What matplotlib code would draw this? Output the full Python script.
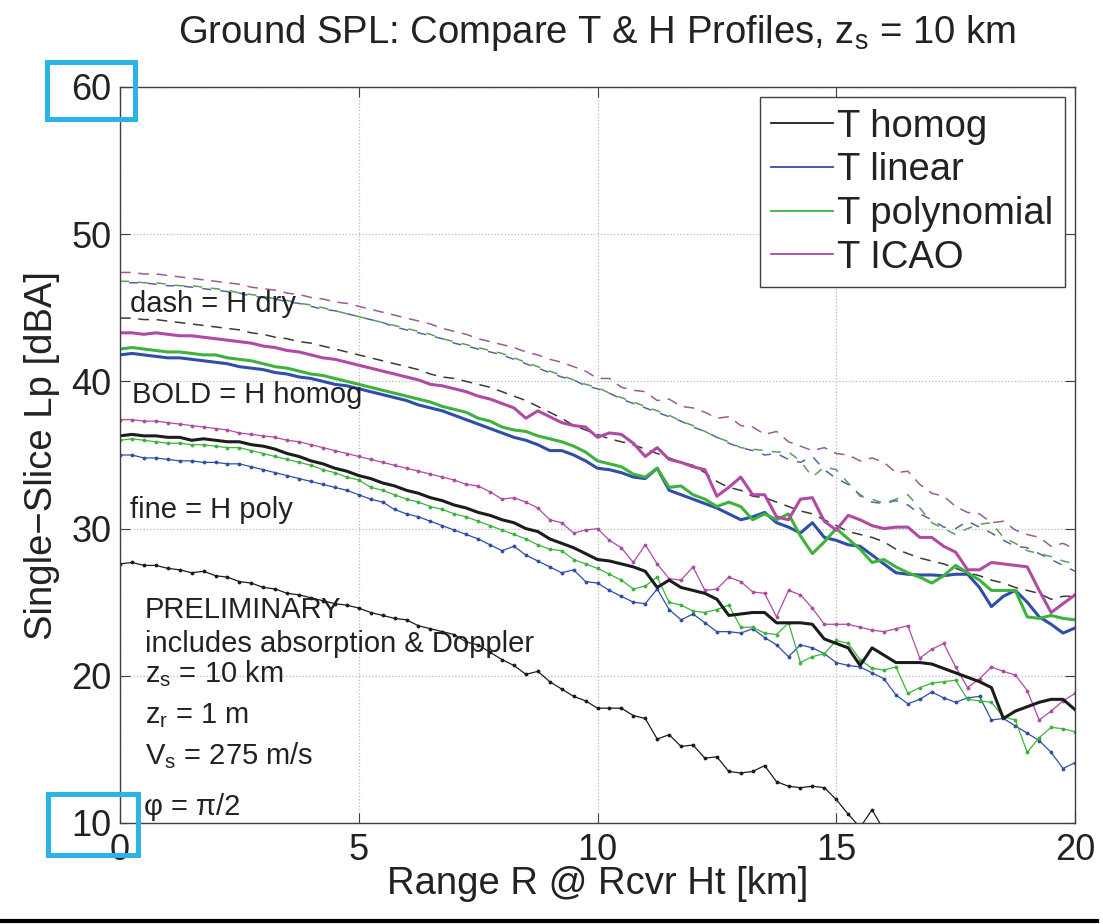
import numpy as np
import matplotlib
matplotlib.use('Agg')
import matplotlib.pyplot as plt
from matplotlib.patches import Rectangle
from matplotlib.lines import Line2D

plt.rcParams['font.family'] = ['Liberation Sans', 'DejaVu Sans']
plt.rcParams['mathtext.fontset'] = 'custom'
plt.rcParams['mathtext.rm'] = 'Liberation Sans'
plt.rcParams['mathtext.it'] = 'Liberation Sans:italic'
plt.rcParams['mathtext.default'] = 'regular'

# ---------------- data ----------------
range_km = np.linspace(0, 20, 81)  # 0.25 km sampling

# H homog (BOLD)
t_homog_h_homog = [
    36.3, 36.4, 36.3, 36.3, 36.2, 36.2, 36.0, 36.1, 36.0, 35.9, 35.9, 35.7,
    35.6, 35.4, 35.1, 34.9, 34.6, 34.4, 34.1, 33.9, 33.6, 33.4, 33.1, 32.9,
    32.6, 32.4, 32.1, 31.9, 31.6, 31.4, 31.1, 30.9, 30.6, 30.4, 30.0, 29.8,
    29.3, 29.0, 28.7, 28.3, 27.9, 27.8, 27.6, 27.4, 27.1, 26.0, 26.5, 26.0,
    25.8, 25.6, 25.2, 24.1, 24.2, 24.3, 24.3, 23.6, 23.6, 23.6, 23.5, 22.5,
    22.2, 21.9, 20.7, 21.9, 21.4, 20.9, 20.9, 20.9, 20.8, 20.5, 20.2, 19.9,
    19.6, 19.2, 17.1, 17.6, 17.9, 18.2, 18.4, 18.4, 17.7]
t_linear_h_homog = [
    41.8, 41.9, 41.8, 41.7, 41.6, 41.6, 41.5, 41.4, 41.3, 41.2, 41.0, 40.9,
    40.8, 40.6, 40.5, 40.3, 40.2, 40.0, 39.8, 39.7, 39.5, 39.3, 39.1, 38.9,
    38.7, 38.4, 38.2, 38.0, 37.7, 37.4, 37.1, 36.8, 36.5, 36.2, 36.0, 35.7,
    35.3, 35.3, 35.0, 34.6, 34.1, 34.0, 33.8, 33.5, 33.4, 34.1, 32.6, 32.3,
    32.0, 31.7, 31.4, 31.0, 30.6, 30.8, 31.1, 30.4, 30.1, 29.7, 30.4, 29.4,
    29.2, 28.9, 28.8, 28.2, 27.6, 27.0, 26.9, 26.85, 26.85, 26.8, 26.9, 26.9,
    26.0, 24.7, 25.4, 25.8, 25.0, 24.0, 23.5, 22.9, 23.25]
t_poly_h_homog = [
    42.2, 42.3, 42.2, 42.1, 42.0, 42.0, 41.9, 41.8, 41.8, 41.6, 41.5, 41.4,
    41.2, 41.0, 40.9, 40.7, 40.5, 40.4, 40.2, 40.0, 39.8, 39.6, 39.4, 39.2,
    39.0, 38.8, 38.6, 38.3, 38.1, 37.9, 37.5, 37.3, 36.9, 36.7, 36.6, 36.3,
    36.1, 35.9, 35.6, 35.2, 34.6, 34.4, 34.2, 33.7, 33.5, 34.1, 32.8, 32.9,
    32.3, 32.0, 31.5, 31.8, 31.5, 30.6, 31.0, 30.6, 31.0, 29.5, 28.3, 29.1,
    30.0, 29.3, 28.6, 27.7, 27.9, 27.4, 27.0, 26.7, 26.3, 26.8, 27.5, 27.0,
    26.5, 25.8, 25.8, 25.8, 24.0, 23.9, 24.1, 23.9, 23.8]
t_icao_h_homog = [
    43.3, 43.3, 43.2, 43.3, 43.2, 43.1, 43.1, 43.0, 42.9, 42.8, 42.7, 42.6,
    42.4, 42.3, 42.1, 42.0, 41.8, 41.6, 41.5, 41.3, 41.1, 40.9, 40.7, 40.5,
    40.3, 40.1, 39.8, 39.7, 39.5, 39.3, 39.0, 38.8, 38.5, 38.2, 37.5, 38.0,
    37.6, 37.2, 37.0, 36.9, 36.2, 36.5, 36.4, 35.8, 34.9, 35.5, 34.7, 34.5,
    34.2, 34.0, 32.2, 32.8, 33.5, 32.3, 32.3, 30.8, 30.6, 32.0, 32.1, 30.5,
    29.9, 30.9, 30.6, 30.2, 30.0, 30.1, 30.1, 29.4, 29.4, 28.8, 28.4, 27.2,
    27.2, 27.7, 27.6, 27.5, 27.4, 25.8, 24.3, 24.9, 25.5]

# H poly (fine, dotted markers)
t_homog_h_poly = [
    27.6, 27.7, 27.5, 27.5, 27.3, 27.2, 27.0, 27.1, 26.8, 26.7, 26.4, 26.3,
    26.0, 25.9, 25.6, 25.5, 25.3, 25.1, 24.9, 24.8, 24.6, 24.3, 24.1, 23.9,
    23.8, 23.4, 23.2, 23.0, 22.8, 22.3, 22.1, 21.6, 21.1, 20.7, 20.1, 20.3,
    19.6, 19.1, 18.6, 18.3, 17.8, 17.8, 17.8, 17.3, 17.1, 15.7, 16.0, 15.2,
    15.3, 14.4, 14.5, 13.5, 13.4, 13.5, 13.9, 12.8, 12.5, 12.4, 12.5, 12.4,
    11.6, 10.6, 9.7, 10.9, 9.5, 9.1, 8.8, 8.6, 8.3, 8.0, 7.8, 7.5,
    7.2, 7.0, 6.8, 6.5, 6.3, 6.1, 5.9, 5.7, 5.5]
t_linear_h_poly = [
    35.0, 35.0, 34.8, 34.8, 34.7, 34.6, 34.6, 34.5, 34.5, 34.4, 34.4, 34.2,
    34.0, 33.8, 33.6, 33.4, 33.2, 33.0, 32.8, 32.6, 32.3, 32.0, 31.8, 31.3,
    31.0, 30.8, 30.5, 30.2, 29.9, 29.6, 29.3, 28.9, 28.5, 28.8, 28.2, 27.8,
    27.4, 27.0, 27.2, 26.4, 26.3, 25.8, 25.4, 25.0, 24.9, 25.9, 24.5, 23.8,
    24.2, 23.6, 23.0, 23.0, 22.9, 23.2, 22.6, 22.1, 21.3, 22.1, 21.9, 21.5,
    20.9, 20.7, 20.6, 20.2, 19.8, 18.7, 18.1, 18.4, 18.9, 18.5, 18.2, 18.5,
    18.6, 17.0, 17.1, 16.6, 16.1, 15.6, 14.8, 13.7, 14.1]
t_poly_h_poly = [
    36.0, 36.1, 36.0, 35.9, 35.8, 35.8, 35.7, 35.7, 35.6, 35.5, 35.5, 35.3,
    35.1, 34.9, 34.7, 34.5, 34.3, 34.0, 33.8, 33.5, 33.3, 32.8, 32.6, 32.3,
    32.0, 31.8, 31.5, 31.3, 31.0, 30.8, 30.5, 30.2, 29.9, 29.6, 29.3, 28.9,
    28.6, 28.5, 27.9, 27.6, 27.3, 26.9, 26.5, 25.9, 26.1, 26.7, 25.0, 24.8,
    24.4, 24.3, 24.5, 24.8, 23.3, 23.3, 22.9, 22.8, 23.6, 20.9, 21.3, 21.5,
    22.4, 22.2, 21.1, 20.5, 20.4, 20.6, 18.8, 19.2, 19.5, 19.6, 19.7, 18.4,
    18.3, 18.2, 17.2, 17.0, 14.8, 15.8, 16.5, 16.4, 16.2]
t_icao_h_poly = [
    37.4, 37.4, 37.3, 37.3, 37.2, 37.1, 37.0, 36.9, 36.8, 36.7, 36.5, 36.4,
    36.3, 36.2, 36.0, 35.9, 35.7, 35.5, 35.3, 35.1, 34.9, 34.7, 34.5, 34.3,
    34.1, 33.9, 33.7, 33.5, 33.3, 33.0, 32.9, 32.5, 32.0, 32.1, 31.8, 31.4,
    30.6, 30.4, 29.7, 29.9, 30.0, 29.2, 28.7, 27.7, 28.9, 27.6, 26.6, 26.5,
    27.4, 25.8, 25.9, 26.7, 26.4, 25.7, 25.6, 24.0, 25.8, 25.5, 24.6, 23.5,
    23.5, 23.5, 23.3, 23.1, 23.0, 23.2, 23.4, 21.2, 21.8, 22.2, 20.6, 19.2,
    19.8, 20.6, 20.3, 20.05, 19.0, 17.0, 17.6, 18.3, 18.8]

# H dry (dashed)
t_homog_h_dry = [
    44.3, 44.3, 44.2, 44.2, 44.1, 44.0, 43.9, 43.8, 43.7, 43.6, 43.5, 43.3,
    43.2, 43.0, 42.9, 42.7, 42.6, 42.4, 42.2, 42.0, 41.8, 41.6, 41.4, 41.2,
    41.0, 40.8, 40.5, 40.3, 40.2, 40.0, 39.8, 39.6, 39.3, 39.0, 38.7, 38.3,
    37.9, 37.5, 37.0, 36.7, 36.4, 36.1, 35.9, 35.7, 35.4, 35.1, 34.8, 34.5,
    34.3, 33.8, 33.2, 32.8, 32.6, 32.2, 32.1, 31.8, 31.5, 31.2, 31.0, 30.6,
    30.2, 29.8, 29.6, 29.4, 29.1, 28.6, 28.3, 28.0, 27.8, 27.6, 27.3, 27.0,
    26.8, 26.5, 26.3, 26.0, 25.8, 25.6, 25.2, 25.4, 25.4]
t_linear_h_dry = [
    46.7, 46.7, 46.7, 46.6, 46.5, 46.5, 46.4, 46.3, 46.2, 46.1, 46.0, 45.8,
    45.7, 45.6, 45.4, 45.3, 45.1, 44.9, 44.8, 44.6, 44.4, 44.2, 44.0, 43.7,
    43.5, 43.3, 43.1, 42.9, 42.6, 42.4, 42.2, 42.0, 41.8, 41.5, 41.2, 40.9,
    40.6, 40.3, 40.1, 39.7, 39.5, 39.2, 38.8, 38.5, 38.2, 37.9, 37.6, 37.3,
    36.9, 36.6, 36.2, 35.8, 35.5, 35.3, 35.0, 35.1, 34.7, 34.5, 34.9, 34.0,
    33.4, 33.0, 32.3, 31.8, 31.7, 31.9, 31.6, 31.0, 30.6, 30.1, 30.0, 30.5,
    30.1, 29.7, 29.2, 28.8, 28.7, 28.3, 27.9, 27.5, 27.1]
t_poly_h_dry = [
    46.8, 46.8, 46.7, 46.7, 46.6, 46.5, 46.5, 46.4, 46.3, 46.2, 46.0, 45.9,
    45.8, 45.6, 45.5, 45.3, 45.2, 45.0, 44.8, 44.6, 44.4, 44.2, 44.0, 43.8,
    43.6, 43.4, 43.2, 42.9, 42.7, 42.5, 42.3, 42.1, 41.9, 41.6, 41.3, 41.0,
    40.7, 40.4, 40.1, 39.8, 39.6, 39.2, 38.9, 38.6, 38.3, 38.0, 37.7, 37.3,
    37.0, 36.6, 36.2, 35.9, 35.5, 35.4, 35.3, 35.2, 35.2, 34.6, 33.5, 34.2,
    34.0, 33.1, 32.2, 32.0, 31.7, 32.0, 32.3, 31.4, 30.4, 30.0, 29.6, 30.0,
    30.3, 30.4, 29.4, 29.0, 28.5, 28.3, 28.1, 27.8, 27.6]
t_icao_h_dry = [
    47.4, 47.4, 47.3, 47.3, 47.2, 47.1, 47.0, 46.9, 46.8, 46.7, 46.6, 46.4,
    46.3, 46.2, 46.0, 45.9, 45.7, 45.6, 45.4, 45.3, 45.1, 44.9, 44.7, 44.5,
    44.3, 44.1, 43.9, 43.6, 43.4, 43.2, 42.9, 42.7, 42.5, 42.3, 42.0, 41.8,
    41.5, 41.3, 41.0, 40.7, 40.2, 40.2, 39.6, 39.4, 39.3, 38.7, 38.8, 38.3,
    38.2, 37.9, 37.5, 37.6, 37.0, 36.9, 36.4, 36.6, 35.9, 35.6, 35.3, 35.5,
    35.1, 35.0, 34.6, 34.8, 34.5, 33.8, 33.9, 33.0, 32.4, 32.2, 31.5, 31.1,
    31.0, 30.4, 30.5, 29.9, 29.6, 29.4, 28.8, 29.0, 28.6]

legend_labels = ['T homog', 'T linear', 'T polynomial', 'T ICAO']
x_ticks = [0, 5, 10, 15, 20]
y_ticks = [10, 20, 30, 40, 50, 60]

# ---------------- styling ----------------
C_BLACK = '#1c1c1c'
C_BLUE = '#2f4ea8'
C_GREEN = '#3db33d'
C_MAG = '#b04aa4'
DASH_COLORS = ['#3a3a3a', '#55679a', '#5e9c5e', '#9a5c92']
DASH_PATTERNS = [(0, (7, 5)), (6, (6, 6)), (0, (6, 6)), (0, (7, 5))]
TXT = '#222222'

fig = plt.figure(figsize=(11.03, 9.24), dpi=100)
ax = fig.add_axes([120 / 1103, 1 - 823 / 924, 955 / 1103, 736 / 924])

colors = [C_BLACK, C_BLUE, C_GREEN, C_MAG]
dry = [t_homog_h_dry, t_linear_h_dry, t_poly_h_dry, t_icao_h_dry]
homog = [t_homog_h_homog, t_linear_h_homog, t_poly_h_homog, t_icao_h_homog]
poly = [t_homog_h_poly, t_linear_h_poly, t_poly_h_poly, t_icao_h_poly]

for vals, c, ls in zip(dry, DASH_COLORS, DASH_PATTERNS):
    ax.plot(range_km, vals, color=c, lw=1.1, linestyle=ls)
for vals, c in zip(poly, colors):
    ax.plot(range_km, vals, color=c, lw=0.9, marker='.', markersize=3.5)
for vals, c in zip(homog, colors):
    ax.plot(range_km, vals, color=c, lw=2.2)

ax.set_xlim(0, 20)
ax.set_ylim(10, 60)
ax.set_xticks(x_ticks)
ax.set_yticks(y_ticks)
ax.grid(True, linestyle=':', color='#b8b8b8', lw=0.9)
ax.tick_params(direction='in', length=7, width=0.8, top=True, right=True,
               labelsize=26, colors='#404040', labelcolor=TXT)
ax.tick_params(axis='x', pad=7)
ax.tick_params(axis='y', pad=6)
for s in ax.spines.values():
    s.set_color('#404040')
    s.set_linewidth(1.0)

ax.set_title(r'Ground SPL: Compare T & H Profiles, z$_\mathregular{s}$ = 10 km',
             fontsize=27.5, color=TXT, y=(823 - 43) / 736, pad=0)
ax.set_xlabel('Range R @ Rcvr Ht [km]', fontsize=27.5, color=TXT)
ax.xaxis.label.set_va('baseline')
ax.xaxis.set_label_coords(0.5, (823 - 894) / 736)
ax.set_ylabel('Single\u2212Slice Lp [dBA]', fontsize=27.5, color=TXT)
ax.yaxis.label.set_va('baseline')
ax.yaxis.set_label_coords((52 - 120) / 955, 0.5)

handles = [Line2D([], [], color=c, lw=1.3) for c in colors]
leg = ax.legend(handles, legend_labels, loc='upper right', fontsize=27.5,
                frameon=True, fancybox=False, borderaxespad=0.27, borderpad=0.3,
                labelspacing=0.2, handlelength=1.6, handletextpad=0.12,
                framealpha=1, edgecolor='#404040')
leg.get_frame().set_linewidth(1.0)
for t in leg.get_texts():
    t.set_color(TXT)

ann = dict(fontsize=21, color=TXT, va='baseline', ha='left')
ax.text(0.21, 44.7, 'dash = H dry', **ann)
ax.text(0.25, 38.53, 'BOLD = H homog', **ann)
ax.text(0.21, 30.72, 'fine = H poly', **ann)
ax.text(0.52, 23.93, 'PRELIMINARY', **ann)
ax.text(0.52, 21.6, 'includes absorption & Doppler', **ann)
ax.text(0.52, 19.58, r'z$_\mathregular{s}$ = 10 km', **ann)
ax.text(0.52, 16.79, r'z$_\mathregular{r}$ = 1 m', **ann)
ax.text(0.52, 14.0, r'V$_\mathregular{s}$ = 275 m/s', **ann)
ax.text(0.50, 10.54, '\u03c6 = \u03c0/2', **ann)

# highlight boxes around the 60 and 10 tick labels
CYAN = '#2bb4e6'
fig.patches.append(Rectangle((47 / 1103, 1 - 119 / 924), 88 / 1103, 57 / 924,
                             transform=fig.transFigure, fill=False,
                             edgecolor=CYAN, lw=3.6, zorder=10))
fig.patches.append(Rectangle((48 / 1103, 1 - 855 / 924), 90 / 1103, 61 / 924,
                             transform=fig.transFigure, fill=False,
                             edgecolor=CYAN, lw=3.6, zorder=10))
# bottom rule
fig.add_artist(Line2D([0, 0.995], [1 - 921 / 924, 1 - 921 / 924],
                      transform=fig.transFigure, color='black', lw=3.0))

fig.savefig('out.png', dpi=100)
